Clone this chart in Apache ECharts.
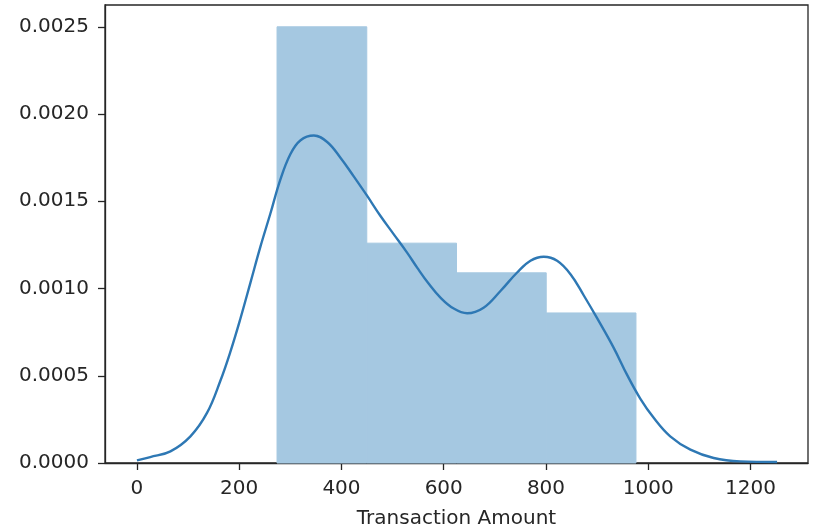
<!DOCTYPE html>
<html>
<head>
<meta charset="utf-8">
<script src="https://cdn.jsdelivr.net/npm/echarts@6/dist/echarts.min.js"></script>
<style>
  html, body { margin: 0; padding: 0; background: #fff; }
  #chart { width: 815px; height: 529px; }
</style>
</head>
<body>
<div id="chart"></div>
<script>
// Histogram bins (density-normalised) of transaction amounts
const binEdges = [274, 449.5, 625, 800.5, 976];
const binDensity = [0.0025, 0.00126, 0.00109, 0.00086];

// Kernel density estimate of the same data
const kdeX = [0, 26, 65.5, 104.6, 137, 163, 183, 202, 222, 241.5, 261, 280, 300, 320, 346, 372, 398, 424, 450, 476, 502, 528, 548, 570, 593.6, 619.6, 645.8, 678, 711, 743.6, 769.6, 795.6, 821.8, 848, 874, 900, 932.5, 958.7, 984.7, 1010.7, 1043, 1082.5, 1128, 1180, 1252];
const kdeY = [0.000015, 0.000034, 0.000067, 0.000153, 0.000287, 0.00047, 0.00064, 0.000824, 0.001034, 0.00124, 0.00143, 0.00162, 0.00177, 0.00185, 0.001877, 0.00184, 0.00175, 0.001643, 0.001532, 0.001417, 0.001312, 0.001207, 0.00112, 0.00103, 0.000948, 0.000885, 0.000858, 0.00089, 0.000986, 0.001092, 0.001159, 0.001182, 0.001159, 0.001082, 0.00096, 0.00083, 0.00066, 0.000505, 0.000368, 0.000259, 0.000153, 0.0000764, 0.0000287, 0.0000092, 0.0000057];

// Axis ticks
const xTicks = [0, 200, 400, 600, 800, 1000, 1200];
const yTicks = [0, 0.0005, 0.001, 0.0015, 0.002, 0.0025];
const xLabel = 'Transaction Amount';

const binData = binDensity.map((d, i) => [binEdges[i], binEdges[i + 1], d]);
const kdeData = kdeX.map((x, i) => [x, kdeY[i]]);

const textColor = '#262626';
const axisColor = '#262626';
const font = 'DejaVu Sans';
const barColor = '#a5c8e1';

const chart = echarts.init(document.getElementById('chart'), null, { renderer: 'canvas' });
chart.setOption({
  animation: false,
  backgroundColor: '#ffffff',
  grid: {
    left: 105, right: 7, top: 5, bottom: 66,
    show: true, borderColor: axisColor, borderWidth: 1.3,
    outerBoundsMode: 'none'
  },
  xAxis: {
    type: 'value',
    min: -62.5, max: 1312.5,
    splitLine: { show: false },
    axisLine: { show: true, onZero: false, lineStyle: { color: axisColor, width: 1.3 } },
    axisTick: { show: true, customValues: xTicks, length: 7, lineStyle: { color: axisColor, width: 1.3 } },
    axisLabel: {
      customValues: xTicks, color: textColor, fontFamily: font, fontSize: 20, margin: 16,
      formatter: v => String(v)
    },
    name: xLabel,
    nameLocation: 'middle',
    nameGap: 46,
    nameTextStyle: { color: textColor, fontFamily: font, fontSize: 20 }
  },
  yAxis: {
    type: 'value',
    min: 0, max: 0.002625,
    splitLine: { show: false },
    axisLine: { show: true, onZero: false, lineStyle: { color: axisColor, width: 1.3 } },
    axisTick: { show: true, customValues: yTicks, length: 7, lineStyle: { color: axisColor, width: 1.3 } },
    axisLabel: {
      customValues: yTicks, color: textColor, fontFamily: font, fontSize: 20, margin: 16,
      formatter: v => v.toFixed(4)
    }
  },
  series: [
    {
      type: 'custom',
      data: binData,
      encode: { x: [0, 1], y: 2 },
      renderItem: (params, api) => {
        const p0 = api.coord([api.value(0), api.value(2)]);
        const p1 = api.coord([api.value(1), 0]);
        return {
          type: 'rect',
          shape: { x: p0[0], y: p0[1], width: p1[0] - p0[0], height: p1[1] - p0[1] },
          style: { fill: barColor, stroke: barColor, lineWidth: 1 }
        };
      },
      z: 1
    },
    {
      type: 'line',
      data: kdeData,
      smooth: 0.4,
      showSymbol: false,
      lineStyle: { color: '#2e78b4', width: 2.4 },
      z: 3
    }
  ]
});
</script>
</body>
</html>
